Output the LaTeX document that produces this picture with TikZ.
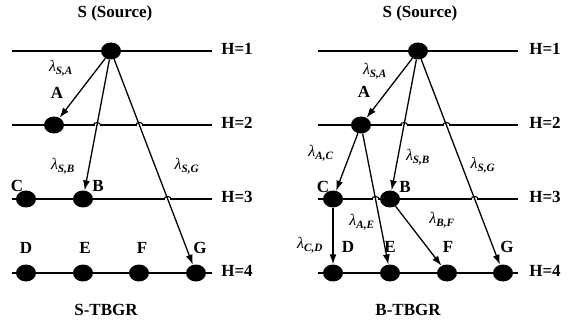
\documentclass[tikz,border=0pt]{standalone}
\usepackage{fontspec}
\setmainfont{Liberation Serif}
\usepackage{tikz}
\usetikzlibrary{arrows.meta,shapes.geometric,intersections}

\newcommand{\rate}[1]{\textit{λ}\textsubscript{\textbf{\textit{#1}}}}

\begin{document}
\begin{tikzpicture}[
  x=1pt, y=-1pt,
  font=\fontsize{17}{19}\selectfont\bfseries,
  dot/.style={ellipse, fill=black, minimum width=20pt, minimum height=17pt, inner sep=0pt},
  level/.style={line width=1.3pt},
  arr/.style={-{Latex[length=10pt,width=7pt]}, line width=1.3pt},
  rate/.style={font=\fontsize{16}{18}\selectfont},
  gap/.style={white, line width=2pt},
  hop/.style={line width=1.1pt}
]
\useasboundingbox (0,0) rectangle (575,320);

% hop levels
\foreach \y/\h in {51/1,125/2,199/3,273/4} {
  \draw[level, name path global=L\h] (12,\y) -- (212,\y);
  \draw[level, name path global=R\h] (318,\y) -- (518,\y);
  \node (hl\h) at (237,\y-2) {H=\h};
  \node (hr\h) at (545,\y-2) {H=\h};
}

% S-TBGR
\node[dot] (S1) at (111,51) {};
\node[dot] (A1) at (54,125) {};
\node[dot] (C1) at (26,199) {};
\node[dot] (B1) at (83,199) {};
\foreach \n/\x in {D/26,E/83,F/139,G/196}
  \node[dot] (\n1) at (\x,273) {};

\node (src1) at (115,13) {S (Source)};
\node (nA1) at (57,93) {A};
\node (nC1) at (17,186) {C};
\node (nB1) at (98,186) {B};
\foreach \n/\x in {D/26,E/85,F/142,G/200}
  \node (n\n1) at (\x,248) {\n};
\node[rate] (rSA1) at (61,68) {\rate{S,A}};
\node[rate] (rSB1) at (63,166) {\rate{S,B}};
\node[rate] (rSG1) at (187,166) {\rate{S,G}};
\node (cap1) at (106,310) {S-TBGR};

\path[name path=SB1] (S1.center) -- (B1.center);
\path[name path=SG1] (S1.center) -- (G1.center);
\path[name intersections={of=L2 and SB1, by=x1}];
\path[name intersections={of=L2 and SG1, by=x2}];
\path[name intersections={of=L3 and SG1, by=x3}];
\foreach \p in {x1,x2,x3} {
  \draw[gap] (\p) ++(-2.5,0) -- ++(5,0);
  \draw[hop] (\p) ++(-3.5,0) arc[start angle=180, end angle=0, x radius=3.5pt, y radius=2.5pt];
}

\draw[arr] (S1) -- (A1);
\draw[arr] (S1) -- (B1);
\draw[arr] (S1) -- (G1);

% B-TBGR
\node[dot] (S2) at (418,51) {};
\node[dot] (A2) at (361,125) {};
\node[dot] (C2) at (333,199) {};
\node[dot] (B2) at (390,199) {};
\foreach \n/\x in {D/333,E/390,F/447,G/503}
  \node[dot] (\n2) at (\x,273) {};

\node (src2) at (420,13) {S (Source)};
\node (nA2) at (364,92) {A};
\node (nC2) at (323,187) {C};
\node (nB2) at (405,187) {B};
\foreach \n/\x in {D/348,E/390,F/448,G/507}
  \node (n\n2) at (\x,247) {\n};
\node[rate] (rSA2) at (375,71) {\rate{S,A}};
\node[rate] (rAC2) at (321,153) {\rate{A,C}};
\node[rate] (rSB2) at (418,157) {\rate{S,B}};
\node[rate] (rSG2) at (483,165) {\rate{S,G}};
\node[rate] (rAE2) at (362,222) {\rate{A,E}};
\node[rate] (rBF2) at (442,220) {\rate{B,F}};
\node[rate] (rCD2) at (310,245) {\rate{C,D}};
\node (cap2) at (408,310) {B-TBGR};

\path[name path=SB2] (S2.center) -- (B2.center);
\path[name path=SG2] (S2.center) -- (G2.center);
\path[name path=AE2] (A2.center) -- (E2.center);
\path[name intersections={of=R2 and SB2, by=y1}];
\path[name intersections={of=R2 and SG2, by=y2}];
\path[name intersections={of=R3 and AE2, by=y3}];
\path[name intersections={of=R3 and SG2, by=y4}];
\foreach \p in {y1,y2,y3,y4} {
  \draw[gap] (\p) ++(-2.5,0) -- ++(5,0);
  \draw[hop] (\p) ++(-3.5,0) arc[start angle=180, end angle=0, x radius=3.5pt, y radius=2.5pt];
}

\draw[arr] (S2) -- (A2);
\draw[arr] (S2) -- (B2);
\draw[arr] (S2) -- (G2);
\draw[arr] (A2) -- (C2);
\draw[arr] (A2) -- (E2);
\draw[arr] (C2) -- (D2);
\draw[arr] (B2) -- (F2);
\end{tikzpicture}
\end{document}
